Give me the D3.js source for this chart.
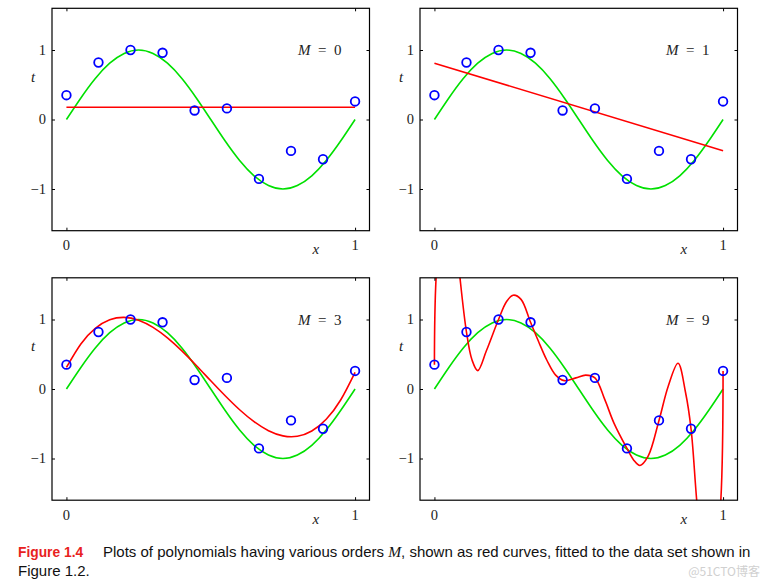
<!DOCTYPE html>
<html><head><meta charset="utf-8">
<script src="https://cdn.jsdelivr.net/npm/d3@7"></script>
<style>body{margin:0;background:#fff}svg{display:block}</style>
</head><body>
<script>
// ---- data ----
const dataX = [0, 0.111, 0.222, 0.333, 0.444, 0.556, 0.667, 0.778, 0.889, 1];
const dataT = [0.35, 0.82, 1.0, 0.96, 0.13, 0.16, -0.855, -0.452, -0.572, 0.26];

const sineX = [0,0.05,0.1,0.15,0.2,0.25,0.3,0.35,0.4,0.45,0.5,0.55,0.6,0.65,0.7,0.75,0.8,0.85,0.9,0.95,1];
const sineT = [0,0.31,0.59,0.81,0.95,1.0,0.95,0.81,0.59,0.31,0,-0.31,-0.59,-0.81,-0.95,-1.0,-0.95,-0.81,-0.59,-0.31,0];

const fit0X = [0, 1];
const fit0T = [0.176, 0.176];
const fit1X = [0, 1];
const fit1T = [0.81, -0.45];
const fit3X = [0,0.05,0.1,0.15,0.2,0.25,0.3,0.35,0.4,0.45,0.5,0.55,0.6,0.65,0.7,0.75,0.8,0.85,0.9,0.95,1];
const fit3T = [0.31,0.648,0.872,0.995,1.03,0.99,0.887,0.736,0.549,0.339,0.118,-0.098,-0.299,-0.47,-0.6,-0.674,-0.68,-0.604,-0.435,-0.158,0.24];
const fit9X = [0,0.006,0.045,0.088,0.111,0.13,0.15,0.18,0.222,0.25,0.273,0.30,0.333,0.36,0.39,0.42,0.45,0.49,0.524,0.556,0.59,0.622,0.667,0.69,0.712,0.74,0.778,0.81,0.844,0.87,0.889,0.909,0.95,0.992,1];
const fit9T = [0.35,1.62,3.5,1.62,0.82,0.42,0.265,0.55,1.0,1.26,1.35,1.29,0.96,0.69,0.41,0.2,0.12,0.16,0.2,0.16,-0.15,-0.49,-0.855,-1.02,-1.10,-0.97,-0.452,0.04,0.37,-0.05,-0.572,-1.62,-3.5,-1.62,0.26];

const panelLabels = ["0", "1", "3", "9"];
const xTicks = [0, 1];
const yTicks = [-1, 0, 1];
const captionHead = "Figure 1.4";
const captionText1 = "Plots of polynomials having various orders ";
const captionText2 = ", shown as red curves, fitted to the data set shown in";
const captionLine2 = "Figure 1.2.";

const fits = [[fit0X, fit0T], [fit1X, fit1T], [fit3X, fit3T], [fit9X, fit9T]];

// ---- layout ----
const W = 767, H = 586;
const svg = d3.select("body").append("svg").attr("width", W).attr("height", H);
const panelW = 317.5, panelH = 222.4;
const lefts = [52, 420], tops = [8.3, 277.8];
const serif = "'Liberation Serif','DejaVu Serif',serif";

fits.forEach((f, i) => {
  const px = lefts[i % 2], py = tops[Math.floor(i / 2)];
  const g = svg.append("g").attr("transform", `translate(${px},${py})`);
  const x = d3.scaleLinear().domain([-0.05, 1.05]).range([0, panelW]);
  const y = d3.scaleLinear().domain([-1.6, 1.6]).range([panelH, 0]);

  const clipId = "clip" + i;
  g.append("clipPath").attr("id", clipId).append("rect")
    .attr("x", 0).attr("y", 0).attr("width", panelW).attr("height", panelH);

  const plot = g.append("g").attr("clip-path", `url(#${clipId})`);

  plot.append("path")
    .datum(sineX.map((v, k) => [v, sineT[k]]))
    .attr("d", d3.line().x(d => x(d[0])).y(d => y(d[1])).curve(d3.curveNatural))
    .attr("fill", "none").attr("stroke", "#00e000").attr("stroke-width", 1.6);

  const fx = f[0], ft = f[1];
  const curve = i === 3 ? d3.curveCatmullRom.alpha(0.5) : (i === 2 ? d3.curveNatural : d3.curveLinear);
  plot.append("path")
    .datum(fx.map((v, k) => [v, ft[k]]))
    .attr("d", d3.line().x(d => x(d[0])).y(d => y(d[1])).curve(curve))
    .attr("fill", "none").attr("stroke", "#ff0000").attr("stroke-width", 1.6);

  plot.selectAll("circle.pt").data(dataX.map((v, k) => [v, dataT[k]])).join("circle")
    .attr("class", "pt")
    .attr("cx", d => x(d[0])).attr("cy", d => y(d[1])).attr("r", 4.3)
    .attr("fill", "none").attr("stroke", "#0000ff").attr("stroke-width", 1.8);

  // axes (inward ticks on all four sides)
  const tl = 3;
  g.append("g").attr("transform", `translate(0,${panelH})`)
    .call(d3.axisBottom(x).tickValues(xTicks).tickSize(-tl).tickFormat(""))
    .call(a => a.select(".domain").remove());
  g.append("g")
    .call(d3.axisTop(x).tickValues(xTicks).tickSize(-tl).tickFormat(""))
    .call(a => a.select(".domain").remove());
  g.append("g")
    .call(d3.axisLeft(y).tickValues(yTicks).tickSize(-tl).tickFormat(""))
    .call(a => a.select(".domain").remove());
  g.append("g").attr("transform", `translate(${panelW},0)`)
    .call(d3.axisRight(y).tickValues(yTicks).tickSize(-tl).tickFormat(""))
    .call(a => a.select(".domain").remove());
  g.selectAll(".tick line").attr("stroke", "#000").attr("stroke-width", 1);

  g.append("rect").attr("x", 0).attr("y", 0).attr("width", panelW).attr("height", panelH)
    .attr("fill", "none").attr("stroke", "#000").attr("stroke-width", 1.2);

  // tick labels
  g.selectAll("text.yt").data(yTicks).join("text").attr("class", "yt")
    .attr("x", -6).attr("y", d => y(d) + 5).attr("text-anchor", "end")
    .attr("font-family", serif).attr("font-size", 14.5).attr("fill", "#222")
    .text(d => d < 0 ? "\u2212" + Math.abs(d) : d);
  g.selectAll("text.xt").data(xTicks).join("text").attr("class", "xt")
    .attr("x", d => x(d)).attr("y", panelH + 19.5).attr("text-anchor", "middle")
    .attr("font-family", serif).attr("font-size", 14.5).attr("fill", "#222")
    .text(d => d);

  g.append("text").attr("x", -19).attr("y", 73.5).attr("text-anchor", "middle")
    .attr("font-family", serif).attr("font-style", "italic").attr("font-size", 15).attr("fill", "#222")
    .text("t");
  g.append("text").attr("x", x(0) + 249.5).attr("y", panelH + 23.5).attr("text-anchor", "middle")
    .attr("font-family", serif).attr("font-style", "italic").attr("font-size", 15).attr("fill", "#222")
    .text("x");

  const lab = g.append("text").attr("x", 246).attr("y", 47)
    .attr("font-family", serif).attr("font-size", 15).attr("fill", "#222");
  lab.append("tspan").attr("font-style", "italic").text("M");
  lab.append("tspan").text("\u2002=\u2002" + panelLabels[i]);
});

// caption
const sans = "'Liberation Sans','Arial',sans-serif";
svg.append("text").attr("x", 18).attr("y", 557)
  .attr("font-family", sans).attr("font-weight", "bold").attr("font-size", 13.8).attr("fill", "#e8221e")
  .text(captionHead);
const c1 = svg.append("text").attr("x", 103).attr("y", 557)
  .attr("font-family", sans).attr("font-size", 15).attr("fill", "#111");
c1.append("tspan").text(captionText1);
c1.append("tspan").attr("font-family", serif).attr("font-style", "italic").attr("font-size", 15.5).text("M");
c1.append("tspan").text(captionText2);
svg.append("text").attr("x", 18).attr("y", 576)
  .attr("font-family", sans).attr("font-size", 15).attr("fill", "#111")
  .text(captionLine2);
svg.append("text").attr("x", 760).attr("y", 576).attr("text-anchor", "end")
  .attr("font-family", "'Noto Sans CJK SC',sans-serif").attr("font-size", 12).attr("fill", "#d0d0d0")
  .text("@51CTO博客");
</script>
</body></html>
